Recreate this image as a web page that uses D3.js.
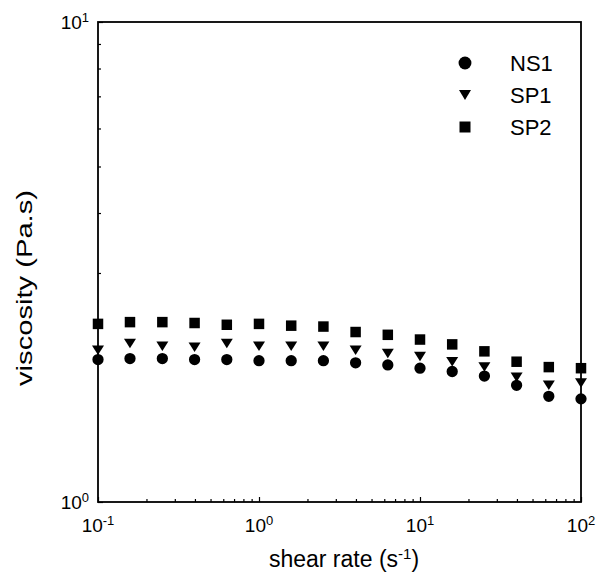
<!DOCTYPE html>
<html>
<head>
<meta charset="utf-8">
<script src="https://cdn.jsdelivr.net/npm/d3@7"></script>
<style>
  html, body { margin: 0; padding: 0; background: #fff; }
  svg { display: block; font-family: "Liberation Sans", Arial, sans-serif; }
</style>
</head>
<body>
<svg id="chart" width="599" height="574"></svg>
<script>
// ---- data ----
const shearRates = [0.1, 0.158, 0.251, 0.398, 0.631, 1, 1.585, 2.512, 3.981, 6.31, 10, 15.85, 25.12, 39.81, 63.1, 100];
const seriesNames = ["NS1", "SP1", "SP2"];
const ns1 = [1.98, 1.99, 1.99, 1.98, 1.98, 1.97, 1.97, 1.97, 1.95, 1.93, 1.90, 1.87, 1.83, 1.75, 1.66, 1.64];
const sp1 = [2.07, 2.14, 2.11, 2.10, 2.14, 2.11, 2.11, 2.11, 2.07, 2.04, 2.01, 1.96, 1.91, 1.82, 1.75, 1.77];
const sp2 = [2.35, 2.37, 2.37, 2.36, 2.34, 2.35, 2.33, 2.32, 2.26, 2.23, 2.18, 2.13, 2.06, 1.96, 1.91, 1.90];
const xMajorTicks = [0.1, 1, 10, 100];
const xTickExponents = ["-1", "0", "1", "2"];
const yMajorTicks = [1, 10];
const yTickExponents = ["0", "1"];
const xTitle = "shear rate (s";
const yTitle = "viscosity (Pa.s)";

// ---- layout ----
const svg = d3.select("#chart");
const L = 98, R = 581, T = 22, B = 502;
const x = d3.scaleLog().domain([0.1, 100]).range([L, R]);
const y = d3.scaleLog().domain([1, 10]).range([B, T]);

// minor ticks
const xMinor = [];
for (let e = -1; e < 2; e++) for (let m = 2; m <= 9; m++) xMinor.push(m * Math.pow(10, e));
const yMinor = [];
for (let m = 2; m <= 9; m++) yMinor.push(m);

const gx = svg.append("g").attr("transform", `translate(0,${B})`);
gx.call(d3.axisBottom(x).tickValues(xMinor).tickSize(-3).tickFormat(""));
gx.append("g").call(d3.axisBottom(x).tickValues(xMajorTicks).tickSize(-5).tickFormat(""));
const gy = svg.append("g").attr("transform", `translate(${L},0)`);
gy.call(d3.axisLeft(y).tickValues(yMinor).tickSize(-3).tickFormat(""));
gy.append("g").call(d3.axisLeft(y).tickValues(yMajorTicks).tickSize(-5).tickFormat(""));
svg.selectAll(".domain").remove();
svg.selectAll(".tick line").attr("stroke", "#000").attr("stroke-width", 1.2);

// frame
svg.append("rect").attr("x", L).attr("y", T).attr("width", R - L).attr("height", B - T)
  .attr("fill", "none").attr("stroke", "#000").attr("stroke-width", 1.8);

// tick labels
xMajorTicks.forEach((v, i) => {
  const t = svg.append("text").attr("x", x(v)).attr("y", 532)
    .attr("text-anchor", "middle").attr("font-size", 19).attr("fill", "#000");
  t.append("tspan").text("10");
  t.append("tspan").attr("dy", -7).attr("font-size", 13).text(xTickExponents[i]);
});
yMajorTicks.forEach((v, i) => {
  const t = svg.append("text").attr("x", 89).attr("y", y(v) + 7)
    .attr("text-anchor", "end").attr("font-size", 19).attr("fill", "#000");
  t.append("tspan").text("10");
  t.append("tspan").attr("dy", -7).attr("font-size", 13).text(yTickExponents[i]);
});

// axis titles
const xt = svg.append("text").attr("x", 344).attr("y", 567).attr("text-anchor", "middle")
  .attr("font-size", 23).attr("fill", "#000");
xt.append("tspan").text(xTitle);
xt.append("tspan").attr("dy", -8).attr("font-size", 15).text("-1");
xt.append("tspan").attr("dy", 8).text(")");

svg.append("text").attr("transform", "translate(32,288) rotate(-90)")
  .attr("text-anchor", "middle").attr("font-size", 22).attr("fill", "#000")
  .attr("textLength", 196).attr("lengthAdjust", "spacingAndGlyphs")
  .text(yTitle);

// custom symbols
const downTri = (w, h) => ({
  draw(ctx) {
    ctx.moveTo(-w / 2, -h / 2);
    ctx.lineTo(w / 2, -h / 2);
    ctx.lineTo(0, h / 2);
    ctx.closePath();
  }
});
const sq = (s) => ({
  draw(ctx) { ctx.rect(-s / 2, -s / 2, s, s); }
});

const series = [
  { name: seriesNames[0], values: ns1, sym: d3.symbol().type(d3.symbolCircle).size(100), leg: d3.symbol().type(d3.symbolCircle).size(130) },
  { name: seriesNames[1], values: sp1, sym: d3.symbol().type(downTri(12, 9.5)), leg: d3.symbol().type(downTri(12, 10)) },
  { name: seriesNames[2], values: sp2, sym: d3.symbol().type(sq(10.5)), leg: d3.symbol().type(sq(11)) }
];

series.forEach(s => {
  svg.append("g").selectAll("path").data(shearRates).join("path")
    .attr("transform", (d, i) => `translate(${x(d)},${y(s.values[i])})`)
    .attr("d", s.sym()).attr("fill", "#000");
});

// legend
series.forEach((s, i) => {
  const cy = 63 + i * 32;
  svg.append("path").attr("transform", `translate(465,${cy})`).attr("d", s.leg()).attr("fill", "#000");
  svg.append("text").attr("x", 510).attr("y", cy + 8).attr("font-size", 22).attr("fill", "#000").text(s.name);
});
</script>
</body>
</html>
